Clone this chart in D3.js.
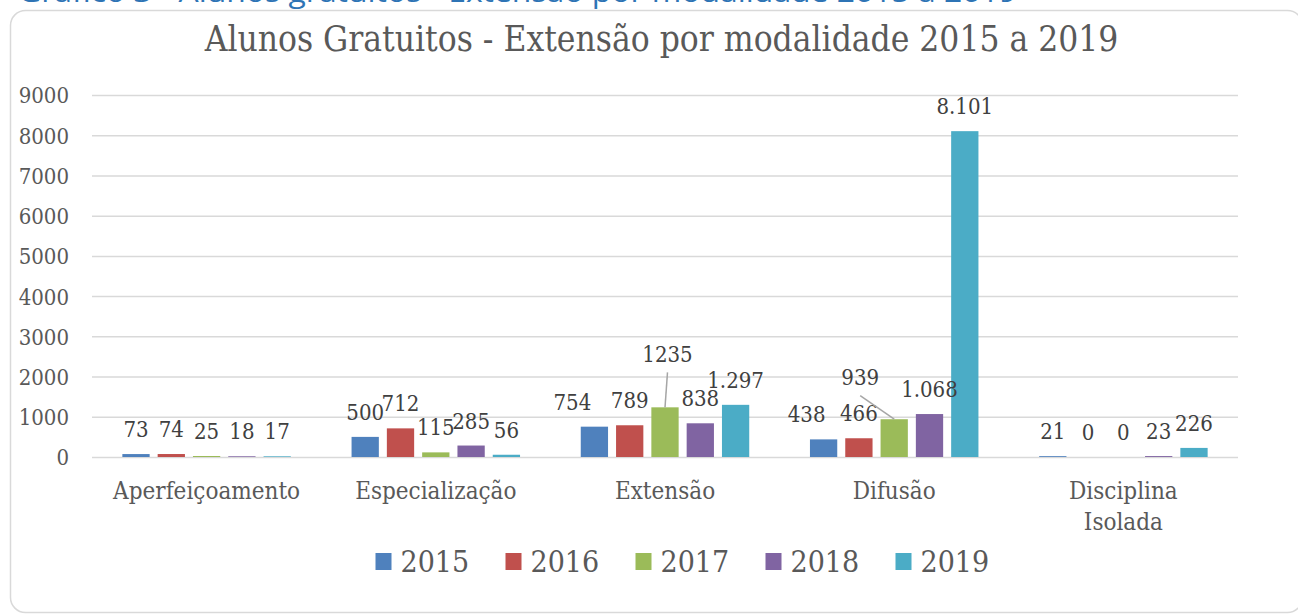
<!DOCTYPE html>
<html>
<head>
<meta charset="utf-8">
<script src="https://cdn.jsdelivr.net/npm/d3@7"></script>
<style>
  html, body { margin: 0; padding: 0; background: #fff; }
  svg { display: block; }
</style>
</head>
<body>
<svg id="chart" width="1298" height="614"></svg>
<script>
// ---------- data ----------
const categories = ["Aperfeiçoamento", "Especialização", "Extensão", "Difusão", "Disciplina Isolada"];
const years = ["2015", "2016", "2017", "2018", "2019"];
const values2015 = [73, 500, 754, 438, 21];
const values2016 = [74, 712, 789, 466, 0];
const values2017 = [25, 115, 1235, 939, 0];
const values2018 = [18, 285, 838, 1068, 23];
const values2019 = [17, 56, 1297, 8101, 226];
const labels2015 = ["73", "500", "754", "438", "21"];
const labels2016 = ["74", "712", "789", "466", "0"];
const labels2017 = ["25", "115", "1235", "939", "0"];
const labels2018 = ["18", "285", "838", "1.068", "23"];
const labels2019 = ["17", "56", "1.297", "8.101", "226"];
const yTicks = [0, 1000, 2000, 3000, 4000, 5000, 6000, 7000, 8000, 9000];
const titleText = "Alunos Gratuitos - Extensão por modalidade 2015 a 2019";
const captionText = "Gráfico 3 - Alunos gratuitos - Extensão por modalidade 2015 a 2019";

// ---------- styles / layout ----------
const colors = ["#4F81BD", "#C0504D", "#9BBB59", "#8064A2", "#4BACC6"];
const textColor = "#595959";
const gridColor = "#d9d9d9";
const serif = "'DejaVu Serif Condensed', 'DejaVu Serif', serif";
// manual label nudges (dx, dy, leader line) — positioning only
const labelNudges = {
  "Extensão|2015": { dx: -22, dy: 0, leader: false },
  "Extensão|2017": { dx: 2.5, dy: -28.5, leader: true },
  "Difusão|2017": { dx: -34, dy: -17, leader: true },
  "Difusão|2015": { dx: -17, dy: 0, leader: false }
};

const seriesValues = [values2015, values2016, values2017, values2018, values2019];
const seriesLabels = [labels2015, labels2016, labels2017, labels2018, labels2019];

const svg = d3.select("#chart");

// caption (mostly clipped above the frame)
svg.append("text")
  .attr("x", 18).attr("y", 2)
  .attr("textLength", 999).attr("lengthAdjust", "spacingAndGlyphs")
  .attr("font-family", "'Open Sans', 'Liberation Sans', sans-serif")
  .attr("font-size", 28)
  .attr("fill", "#2E74B5")
  .text(captionText);

// chart frame
svg.append("rect")
  .attr("x", 10.5).attr("y", 10.5)
  .attr("width", 1292).attr("height", 602)
  .attr("rx", 15).attr("ry", 15)
  .attr("fill", "#fff")
  .attr("stroke", gridColor).attr("stroke-width", 1.5);

// title
svg.append("text")
  .attr("x", 661.5).attr("y", 51)
  .attr("text-anchor", "middle")
  .attr("font-family", serif).attr("font-size", 35)
  .attr("fill", textColor)
  .text(titleText);

// scales
const plotLeft = 92, plotRight = 1238, plotTop = 95, plotBottom = 457;
const y = d3.scaleLinear().domain([0, 9000]).range([plotBottom, plotTop]);
const x0 = d3.scaleBand().domain(categories).range([plotLeft, plotRight]).paddingInner(0).paddingOuter(0);
const x1 = d3.scaleBand().domain(years).range([0, x0.bandwidth()]).paddingInner(0.227).paddingOuter(0.86);

// gridlines + y labels via axis
const yAxis = d3.axisLeft(y).tickValues(yTicks).tickSize(-(plotRight - plotLeft)).tickPadding(23).tickFormat(d3.format("d"));
const gy = svg.append("g").attr("transform", `translate(${plotLeft},0)`).call(yAxis);
gy.select(".domain").remove();
gy.selectAll(".tick line").attr("stroke", gridColor).attr("stroke-width", 1.5);
gy.selectAll(".tick text")
  .attr("font-family", serif).attr("font-size", 22)
  .attr("fill", textColor).attr("dy", "0.36em");

// x category labels via axis
const xAxis = d3.axisBottom(x0).tickSize(0).tickPadding(0);
const gx = svg.append("g").attr("transform", `translate(0,${plotBottom})`).call(xAxis);
gx.select(".domain").remove();
gx.selectAll(".tick text").each(function (d) {
  const t = d3.select(this);
  t.text(null).attr("y", 0).attr("dy", null)
    .attr("font-family", serif).attr("font-size", 24).attr("fill", textColor);
  const words = d.split(" ");
  words.forEach((w, i) => {
    t.append("tspan").attr("x", 0).attr("y", 42 + i * 31).text(w);
  });
});

// bars
const groups = svg.append("g").selectAll("g")
  .data(categories).join("g")
  .attr("transform", d => `translate(${x0(d)},0)`);

groups.selectAll("rect")
  .data((c, ci) => years.map((yr, si) => ({ cat: c, year: yr, si, v: seriesValues[si][ci], label: seriesLabels[si][ci] })))
  .join("rect")
  .attr("x", d => x1(d.year))
  .attr("width", x1.bandwidth())
  .attr("y", d => y(d.v))
  .attr("height", d => y(0) - y(d.v))
  .attr("fill", d => colors[d.si]);

// data labels
const labelLayer = svg.append("g");
categories.forEach((c, ci) => {
  years.forEach((yr, si) => {
    const v = seriesValues[si][ci];
    const cx = x0(c) + x1(yr) + x1.bandwidth() / 2;
    const top = y(v);
    const nudge = labelNudges[c + "|" + yr] || { dx: 0, dy: 0, leader: false };
    const lx = cx + nudge.dx;
    const ly = top - 17 + nudge.dy;
    if (nudge.leader) {
      labelLayer.append("line")
        .attr("x1", lx).attr("y1", ly + 10.5)
        .attr("x2", cx).attr("y2", top)
        .attr("stroke", "#a6a6a6").attr("stroke-width", 1.5);
    }
    labelLayer.append("text")
      .attr("x", lx).attr("y", ly)
      .attr("text-anchor", "middle")
      .attr("font-family", serif).attr("font-size", 22)
      .attr("fill", "#404040")
      .text(seriesLabels[si][ci]);
  });
});

// legend
const legend = svg.append("g");
years.forEach((yr, i) => {
  const lx = 375.5 + i * 130;
  legend.append("rect")
    .attr("x", lx).attr("y", 553)
    .attr("width", 16).attr("height", 17)
    .attr("fill", colors[i]);
  legend.append("text")
    .attr("x", lx + 25).attr("y", 571.5)
    .attr("font-family", serif).attr("font-size", 30)
    .attr("fill", textColor)
    .text(yr);
});
</script>
</body>
</html>
